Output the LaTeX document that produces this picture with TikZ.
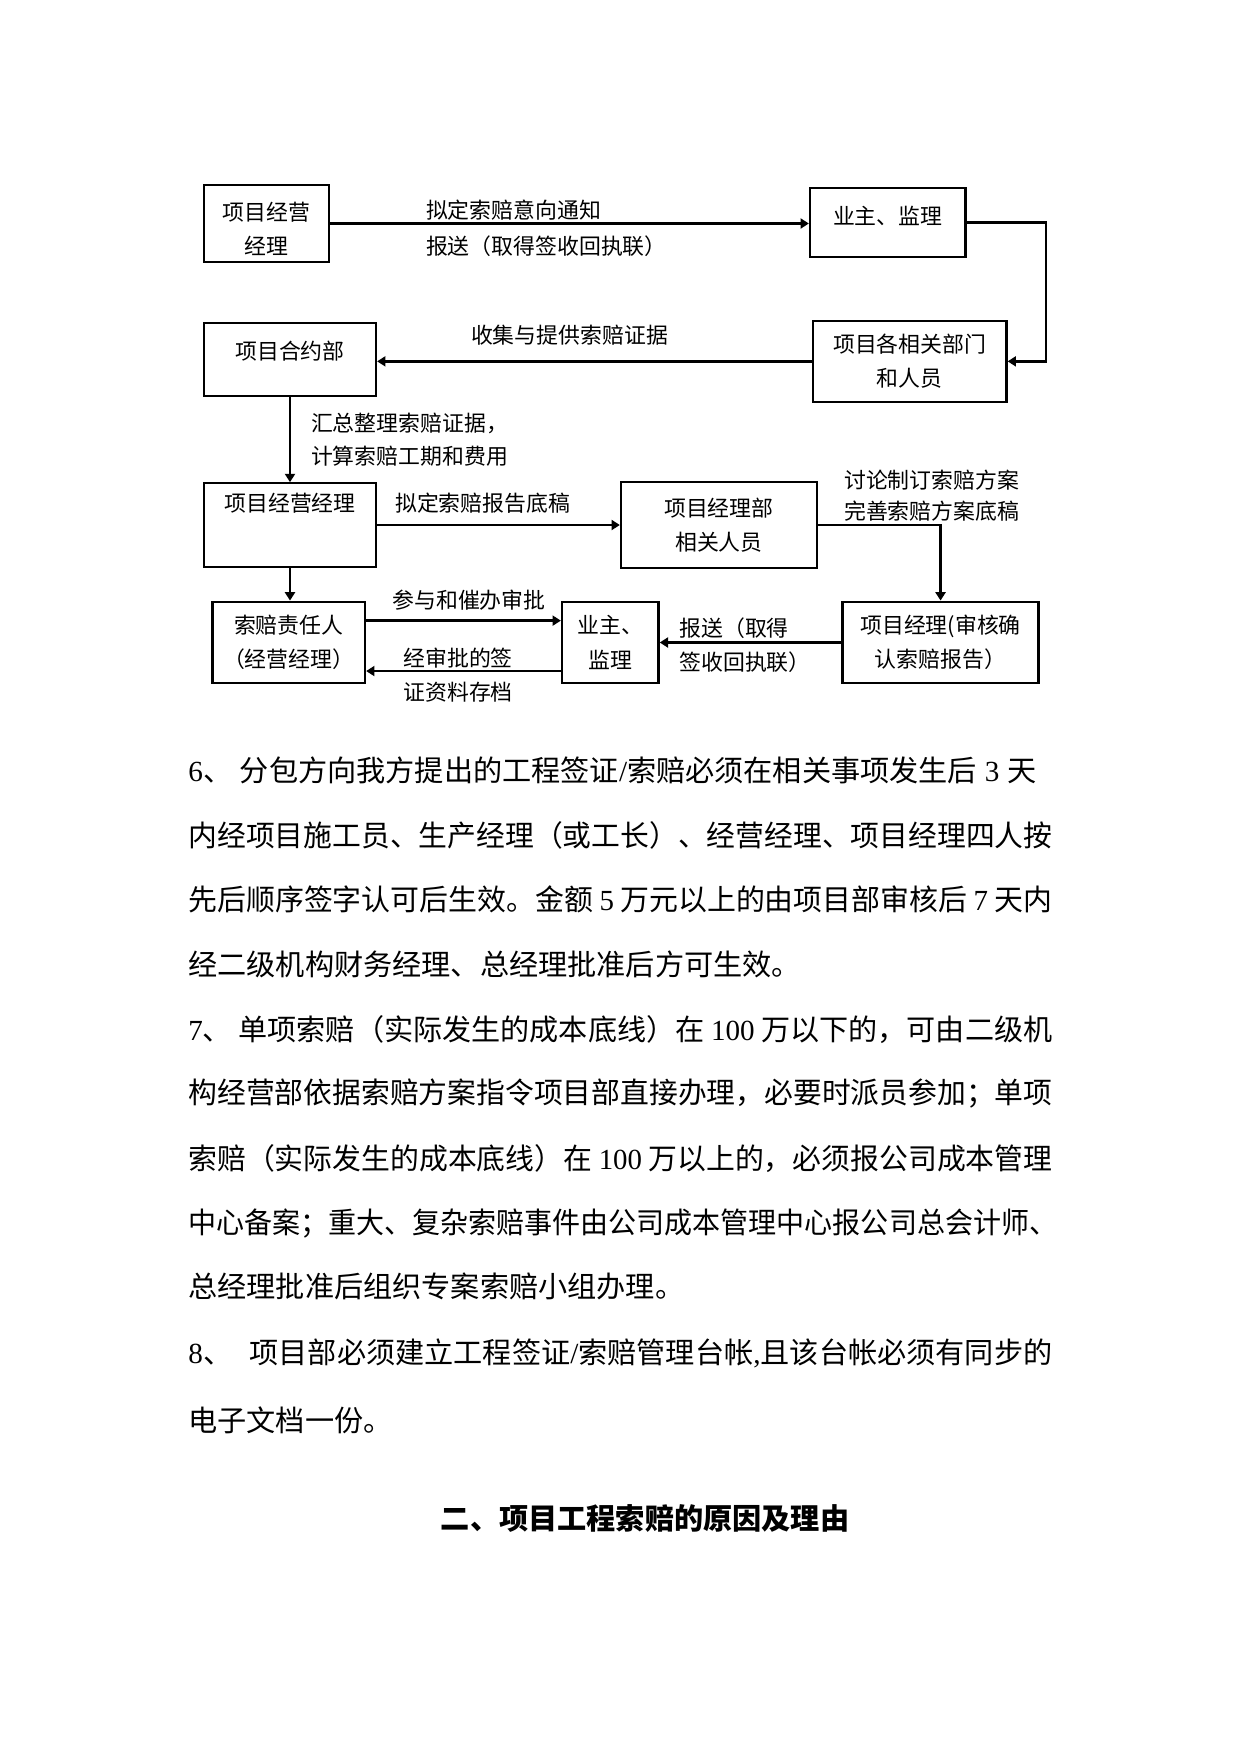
\documentclass[tikz,border=0pt]{standalone}
\usepackage{fontspec}
\usepackage{graphicx}
\setmainfont{Noto Sans CJK SC}
\newfontfamily\tms{Liberation Serif}
\usetikzlibrary{arrows.meta}
\XeTeXlinebreaklocale "zh"
\XeTeXlinebreakskip=0pt plus 1pt minus 0.4pt
\newcommand\pxu{0.48pt}
\newsavebox\jbox
\newcommand\jline[2]{\sbox\jbox{#2}\ifdim\wd\jbox>#1\relax\resizebox{#1}{\height}{\usebox\jbox}\else\makebox[#1][s]{#2}\fi}
\tikzset{
  box/.style={draw, line width=1.1pt, inner sep=0pt, align=center, font=\fontsize{10.5}{16.5}\selectfont},
  lbl/.style={inner sep=0pt, anchor=west, font=\fontsize{10.5}{16}\selectfont},
  arr/.style={line width=1.1pt, -{Triangle[length=4pt,width=4.8pt]}},
  body/.style={inner sep=0pt, anchor=west, font=\fontsize{14}{20}\selectfont},
  heading/.style={inner sep=0pt, font=\fontsize{14}{20}\selectfont\bfseries},
}
\begin{document}
\begin{tikzpicture}[x=0.48pt, y=-0.48pt]
\fill[white] (0,0) rectangle (1241,1754);
\useasboundingbox (0,0) rectangle (1241,1754);

% boxes
\node[box, minimum width={125*\pxu}, minimum height={77*\pxu}] (b1) at (266.5,223.5) {\phantom{项}\\[-10.7pt]项目经营\\经理};
\node[box, minimum width={155.5*\pxu}, minimum height={69*\pxu}] (b2) at (887.75,222.5) {业主、监理\\[-10.7pt]\phantom{项}};
\node[box, minimum width={193.5*\pxu}, minimum height={81.3*\pxu}] (b3) at (909.75,361.35) {项目各相关部门\\和人员};
\node[box, minimum width={172*\pxu}, minimum height={72.7*\pxu}] (b4) at (290,359.35) {项目合约部\\[-8.8pt]\phantom{项}};
\node[box, minimum width={172*\pxu}, minimum height={83.4*\pxu}] (b5) at (290,525) {项目经营经理\\[4.6pt]\phantom{项}};
\node[box, minimum width={195.8*\pxu}, minimum height={86.6*\pxu}] (b6) at (718.9,525) {项目经理部\\相关人员};
\node[box, minimum width={152.6*\pxu}, minimum height={81.6*\pxu}] (b7) at (288.7,642.5) {索赔责任人\\（经营经理）};
\node[box, minimum width={96.6*\pxu}, minimum height={81.6*\pxu}] (b8) at (610.3,642.5) {业主、\\监理};
\node[box, minimum width={195.9*\pxu}, minimum height={81.6*\pxu}] (b9) at (940.55,642.5) {项目经理(审核确\\认索赔报告）};

% connectors
\coordinate (r1) at (1046,0);
\draw[arr] (b1.east) -- (b1.east -| b2.west);
\draw[arr] (b2.east) -| (r1 |- b3.east) -- (b3.east);
\draw[arr] (b3.west) -- (b3.west -| b4.east);
\draw[arr] (b4.south) -- (b5.north);
\draw[arr] (b5.east) -- (b6.west);
\draw[arr] (b6.east) -| (b9.north);
\draw[arr] (b5.south) -- (b5.south |- b7.north);
\coordinate (p1) at ([yshift=10.5pt]b7.east);
\coordinate (p2) at ([yshift=-13.7pt]b8.west);
\draw[arr] (p1) -- (p1 -| b8.west);
\draw[arr] (p2) -- (p2 -| b7.east);
\draw[arr] (b9.west) -- (b9.west -| b8.east);

% labels
\node[lbl] (l1) at (425.7,210) {拟定索赔意向通知};
\node[lbl] (l2) at (425.7,246) {报送（取得签收回执联）};
\node[lbl] (l3) at (470.6,335) {收集与提供索赔证据};
\node[lbl] (l4) at (310.6,423.3) {汇总整理索赔证据，};
\node[lbl] (l5) at (310.6,456) {计算索赔工期和费用};
\node[lbl] (l6) at (394.8,502.7) {拟定索赔报告底稿};
\node[lbl] (l7) at (843.8,480) {讨论制订索赔方案};
\node[lbl] (l8) at (843.8,510.7) {完善索赔方案底稿};
\node[lbl] (l9) at (392,600) {参与和催办审批};
\node[lbl] (l10) at (403,658.3) {经审批的签};
\node[lbl] (l11) at (403,691.7) {证资料存档};
\node[lbl] (l12) at (679,628.3) {报送（取得};
\node[lbl] (l13) at (679,661.7) {签收回执联）};

% body text
\node[body] (t1) at (188,770) {\jline{407pt}{{\tms 6}、 分包方向我方提出的工程签证{\tms /}索赔必须在相关事项发生后 {\tms 3} 天}};
\node[body] (t2) at (188,835) {\jline{414.72pt}{内经项目施工员、生产经理（或工长）、经营经理、项目经理四人按}};
\node[body] (t3) at (188,899.5) {\jline{414.72pt}{先后顺序签字认可后生效。金额 {\tms 5} 万元以上的由项目部审核后 {\tms 7} 天内}};
\node[body] (t4) at (188,964) {经二级机构财务经理、总经理批准后方可生效。};
\node[body] (t5) at (188,1030) {\jline{414.72pt}{{\tms 7}、 单项索赔（实际发生的成本底线）在 {\tms 100} 万以下的，可由二级机}};
\node[body] (t6) at (188,1093.3) {\jline{414.72pt}{构经营部依据索赔方案指令项目部直接办理，必要时派员参加；单项}};
\node[body] (t7) at (188,1158.3) {\jline{414.72pt}{索赔（实际发生的成本底线）在 {\tms 100} 万以上的，必须报公司成本管理}};
\node[body] (t8) at (188,1223.3) {\jline{417pt}{中心备案；重大、复杂索赔事件由公司成本管理中心报公司总会计师、}};
\node[body] (t9) at (188,1286.7) {总经理批准后组织专案索赔小组办理。};
\node[body] (t10) at (188,1353.3) {\jline{414.72pt}{{\tms 8}、 项目部必须建立工程签证{\tms /}索赔管理台帐{\tms ,}且该台帐必须有同步的}};
\node[body] (t11) at (188,1420) {电子文档一份。};

\node[heading] (h) at (645,1518.3) {二、项目工程索赔的原因及理由};
\end{tikzpicture}
\end{document}
